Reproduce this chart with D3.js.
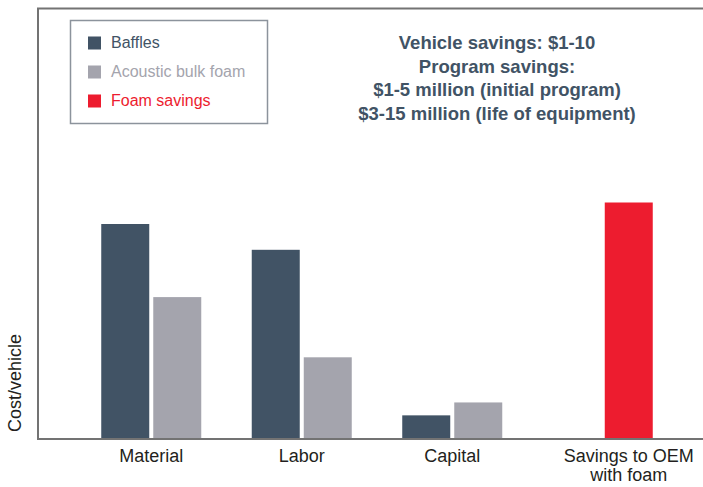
<!DOCTYPE html>
<html>
<head>
<meta charset="utf-8">
<script src="https://cdn.jsdelivr.net/npm/d3@7"></script>
<style>
  body { margin: 0; background: #fff; }
  svg { display: block; font-family: "Liberation Sans", Arial, Helvetica, sans-serif; }
</style>
</head>
<body>
<svg id="chart" width="703" height="487"></svg>
<script>
// categories and series values (arbitrary cost units, no ticks shown on the original)
const categories = ["Material", "Labor", "Capital", "Savings to OEM with foam"];
const categoryLines = [["Material"], ["Labor"], ["Capital"], ["Savings to OEM", "with foam"]];
const baffles = [5.0, 4.4, 0.55, null];
const bulkFoam = [3.3, 1.9, 0.85, null];
const foamSavings = [null, null, null, 5.5];

const seriesNames = ["Baffles", "Acoustic bulk foam", "Foam savings"];
const seriesColors = ["#415365", "#a4a4ad", "#ed1c2f"];

const notes = [
  "Vehicle savings: $1-10",
  "Program savings:",
  "$1-5 million (initial program)",
  "$3-15 million (life of equipment)"
];

const svg = d3.select("#chart");
const W = 703;
const plotLeft = 38, plotTop = 9, plotBottom = 439;

const x = d3.scaleBand()
  .domain(categories)
  .range([76, 678])
  .paddingInner(0.3355)
  .paddingOuter(0.3355 / 2);

// two slots per group: baffles on the left, foam on the right
const x1 = d3.scaleBand()
  .domain(["left", "right"])
  .range([0, x.bandwidth()])
  .paddingInner(0.077);

const y = d3.scaleLinear().domain([0, 10]).range([plotBottom, plotTop]);

const bars = [];
categories.forEach((c, i) => {
  if (baffles[i] != null) bars.push({ cat: c, slot: "left", v: baffles[i], color: seriesColors[0] });
  if (bulkFoam[i] != null) bars.push({ cat: c, slot: "right", v: bulkFoam[i], color: seriesColors[1] });
  if (foamSavings[i] != null) bars.push({ cat: c, slot: "right", v: foamSavings[i], color: seriesColors[2] });
});

svg.append("g").selectAll("rect")
  .data(bars)
  .enter()
  .append("rect")
  .attr("x", d => x(d.cat) + x1(d.slot))
  .attr("y", d => y(d.v))
  .attr("width", x1.bandwidth())
  .attr("height", d => y(0) - y(d.v))
  .attr("fill", d => d.color);

// frame: left, top and bottom lines
const frame = svg.append("g").attr("stroke", "#737373").attr("stroke-width", 2).attr("fill", "none");
frame.append("line").attr("x1", plotLeft).attr("x2", plotLeft).attr("y1", plotTop - 1).attr("y2", plotBottom + 1);
frame.append("line").attr("x1", plotLeft - 1).attr("x2", W).attr("y1", plotTop - 0.5).attr("y2", plotTop - 0.5);
frame.append("line").attr("x1", plotLeft - 1).attr("x2", W).attr("y1", plotBottom).attr("y2", plotBottom);

// category labels, centred under the bars each group actually has
const labels = svg.append("g")
  .attr("font-size", "18px")
  .attr("fill", "#231f20")
  .attr("text-anchor", "middle");

categories.forEach((c, i) => {
  const slots = bars.filter(b => b.cat === c).map(b => x(c) + x1(b.slot));
  const cx = (d3.min(slots) + d3.max(slots) + x1.bandwidth()) / 2;
  const t = labels.append("text").attr("x", cx).attr("y", 462);
  categoryLines[i].forEach((line, j) => {
    t.append("tspan").attr("x", cx).attr("dy", j === 0 ? 0 : 19).text(line);
  });
});

// y axis title
svg.append("text")
  .attr("transform", "rotate(-90)")
  .attr("x", -383)
  .attr("y", 21)
  .attr("text-anchor", "middle")
  .attr("font-size", "18px")
  .attr("fill", "#231f20")
  .text("Cost/vehicle");

// legend
const legend = svg.append("g");
legend.append("rect")
  .attr("x", 70.5).attr("y", 20.5)
  .attr("width", 197).attr("height", 103)
  .attr("fill", "#fff")
  .attr("stroke", "#8c939c")
  .attr("stroke-width", 1.5);

seriesNames.forEach((name, i) => {
  const yy = 36.5 + i * 29;
  legend.append("rect")
    .attr("x", 88).attr("y", yy)
    .attr("width", 13).attr("height", 13)
    .attr("fill", seriesColors[i]);
  legend.append("text")
    .attr("x", 111)
    .attr("y", yy + 11.5)
    .attr("font-size", "16px")
    .attr("fill", seriesColors[i])
    .text(name);
});

// annotation
svg.append("g")
  .attr("text-anchor", "middle")
  .attr("font-size", "18.5px")
  .attr("font-weight", "bold")
  .attr("fill", "#415365")
  .selectAll("text")
  .data(notes)
  .enter()
  .append("text")
  .attr("x", 497)
  .attr("y", (d, i) => 49 + i * 23.6)
  .text(d => d);
</script>
</body>
</html>
